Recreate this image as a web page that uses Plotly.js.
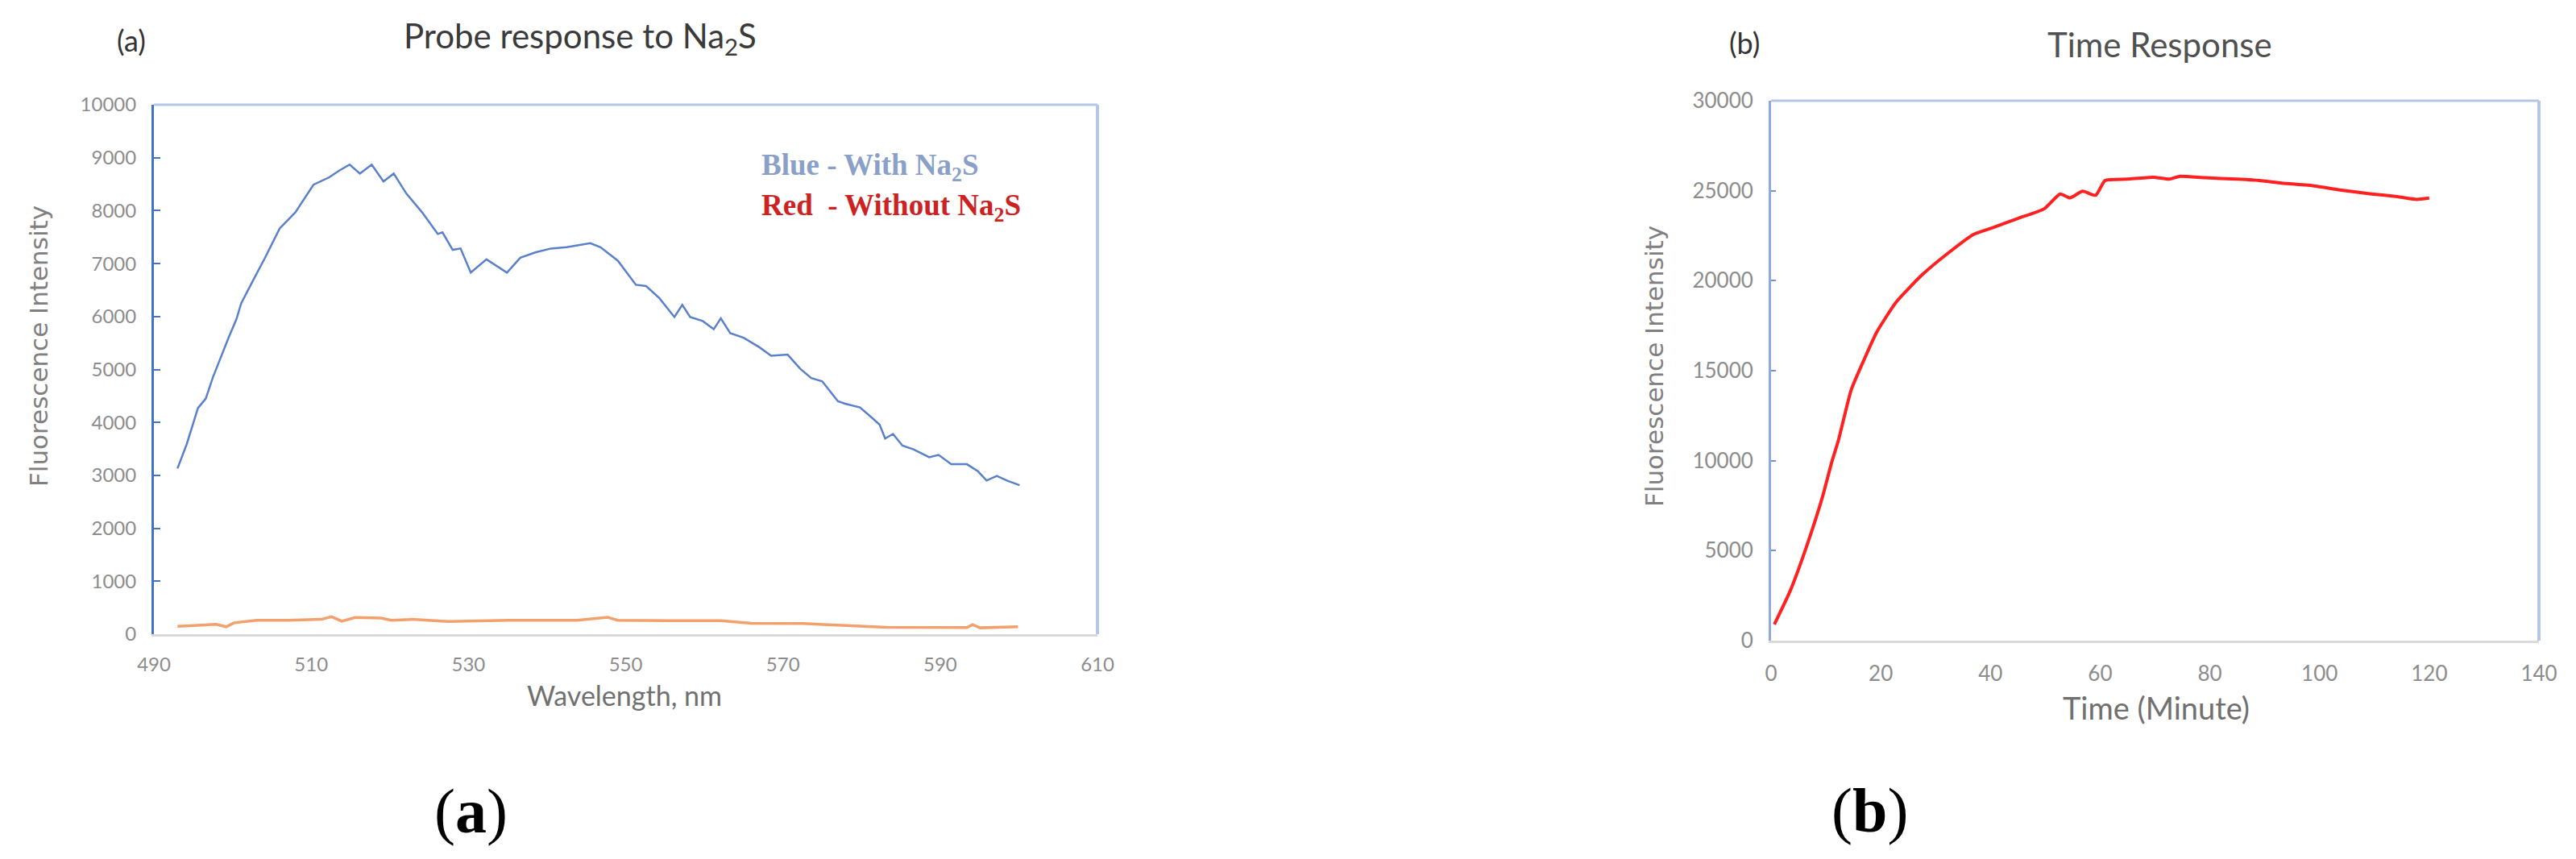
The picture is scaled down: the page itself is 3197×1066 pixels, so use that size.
<!DOCTYPE html>
<html>
<head>
<meta charset="utf-8">
<script src="https://cdn.plot.ly/plotly-3.0.1.min.js"></script>
<style>
  html, body { margin: 0; padding: 0; background: #fff; }
  #chart { width: 3197px; height: 1066px; }
</style>
</head>
<body>
<div id="chart"></div>
<script>
// Panel (a): emission spectra
const wavelengthWith = [493.0, 494.2, 495.6, 496.6, 497.5, 498.5, 499.5, 500.5, 501.1, 502.5,
  504.1, 506.0, 508.0, 510.3, 512.3, 513.6, 514.9, 516.2, 517.7, 519.2,
  520.5, 522.1, 524.1, 526.1, 526.7, 528.0, 529.0, 530.3, 532.3, 534.9,
  536.6, 538.5, 540.5, 542.5, 545.5, 546.8, 549.0, 551.3, 552.6, 554.3,
  556.2, 557.2, 558.2, 559.8, 561.2, 562.1, 563.3, 565.0, 567.0, 568.5,
  570.6, 572.2, 573.6, 575.0, 577.0, 577.9, 579.8, 581.3, 582.3, 583.0,
  584.0, 585.2, 586.6, 588.6, 589.8, 591.4, 593.4, 594.8, 595.9, 597.2,
  598.5, 600.1];
const intensityWith = [3130, 3600, 4270, 4450, 4850, 5230, 5600, 5950, 6250, 6650,
  7100, 7665, 7970, 8490, 8630, 8760, 8870, 8700, 8870, 8550,
  8700, 8325, 7970, 7560, 7590, 7260, 7285, 6830, 7080, 6830,
  7110, 7210, 7285, 7310, 7385, 7310, 7055, 6600, 6575, 6345,
  5990, 6220, 5990, 5915, 5760, 5965, 5685, 5600, 5420, 5260,
  5280, 5013, 4837, 4776, 4398, 4353, 4283, 4090, 3958, 3694,
  3782, 3562, 3492, 3342, 3386, 3210, 3210, 3078, 2902, 2990,
  2902, 2814];

const wavelengthWithout = [493.0, 495.5, 497.9, 499.2, 500.2, 503.1, 507.0, 511.3, 512.6, 513.9,
  515.6, 518.9, 520.2, 522.8, 527.4, 535.2, 543.8, 547.7, 549.0, 555.6,
  562.1, 566.0, 572.6, 583.2, 593.4, 594.1, 595.1, 599.9];
const intensityWithout = [150, 165, 185, 140, 215, 262, 262, 280, 330, 245,
  315, 305, 262, 280, 240, 262, 262, 320, 262, 255,
  255, 205, 200, 130, 125, 180, 120, 140];

// Panel (b): time response
const timeMin = [0.6, 3.5, 6.4, 9.4, 11.1, 12.3, 14.6, 17.0, 19.3, 22.8,
  27.5, 32.2, 36.9, 40.4, 45.1, 49.8, 52.7, 54.5, 56.8, 59.2,
  60.9, 65.0, 69.7, 72.6, 74.4, 79.1, 84.9, 89.0, 93.1, 99.0,
  103.7, 109.5, 114.2, 117.7, 120.0];
const intensityTime = [900, 2770, 5165, 8010, 9955, 11150, 13920, 15640, 17160, 18810,
  20315, 21515, 22570, 22945, 23470, 23995, 24820, 24600, 24970, 24745,
  25570, 25645, 25750, 25645, 25795, 25720, 25645, 25570, 25420, 25270,
  25045, 24820, 24670, 24520, 24595];

const W = 3197, H = 1066;
const px = x => x / W;
const py = y => 1 - y / H;

const tickFont = { family: 'Lato, sans-serif', size: 24, color: '#8c8c8c' };
const axisTitleFont = { family: 'DejaVu Sans, sans-serif', size: 31, color: '#808080' };

const traces = [
  {
    x: wavelengthWith, y: intensityWith, xaxis: 'x', yaxis: 'y',
    type: 'scatter', mode: 'lines', line: { color: '#5a80cc', width: 2.5 }
  },
  {
    x: wavelengthWithout, y: intensityWithout, xaxis: 'x', yaxis: 'y',
    type: 'scatter', mode: 'lines', line: { color: '#f2a06c', width: 3.5 }
  },
  {
    x: timeMin, y: intensityTime, xaxis: 'x2', yaxis: 'y2',
    type: 'scatter', mode: 'lines', line: { color: '#ff2020', width: 4, shape: 'spline', smoothing: 0.5 }
  }
];

function border(xr, yr) {
  return [
    { type: 'line', xref: xr, yref: yr, x0: 0, x1: 1, y0: 1, y1: 1, line: { color: '#b4c7e7', width: 3 } },
    { type: 'line', xref: xr, yref: yr, x0: 1, x1: 1, y0: 0, y1: 1, line: { color: '#b4c7e7', width: 4 } }
  ];
}

// text placed by pixel centre
function label(text, x, y, font, extra) {
  return Object.assign({
    text: text, x: px(x), y: py(y), xref: 'paper', yref: 'paper',
    xanchor: 'center', yanchor: 'middle', showarrow: false, font: font
  }, extra || {});
}

const layout = {
  width: W, height: H,
  margin: { l: 0, r: 0, t: 0, b: 0 },
  paper_bgcolor: '#fff', plot_bgcolor: '#fff',
  showlegend: false,
  xaxis: {
    domain: [px(191), px(1362)], anchor: 'y',
    range: [490, 610], tick0: 490, dtick: 20,
    showgrid: false, zeroline: false,
    showline: true, linecolor: '#d9d9d9', linewidth: 3,
    ticks: '', ticklabelstandoff: 14, tickfont: tickFont
  },
  yaxis: {
    domain: [py(787), py(130)], anchor: 'x',
    range: [0, 10000], dtick: 1000, tickformat: 'd',
    showgrid: false, zeroline: false,
    showline: true, linecolor: '#4472c4', linewidth: 3,
    ticks: 'inside', ticklen: 8, tickwidth: 2, tickcolor: '#4472c4',
    ticklabelstandoff: 14, tickfont: tickFont
  },
  xaxis2: {
    domain: [px(2198), px(3151)], anchor: 'y2',
    range: [0, 140], dtick: 20,
    showgrid: false, zeroline: false,
    showline: true, linecolor: '#d9d9d9', linewidth: 3,
    ticks: '', ticklabelstandoff: 16, tickfont: Object.assign({}, tickFont, { size: 26 })
  },
  yaxis2: {
    domain: [py(795), py(125)], anchor: 'x2',
    range: [0, 30000], dtick: 5000, tickformat: 'd',
    showgrid: false, zeroline: false,
    showline: true, linecolor: '#8faadc', linewidth: 3,
    ticks: 'inside', ticklen: 6, tickwidth: 2, tickcolor: '#6f94d6',
    ticklabelstandoff: 14, tickfont: Object.assign({}, tickFont, { size: 26 })
  },
  shapes: border('x domain', 'y domain').concat(border('x2 domain', 'y2 domain')),
  annotations: [
    // panel titles
    label('(a)', 163, 50, { family: 'Lato, sans-serif', size: 36, color: '#333' }),
    label('Probe response to Na<sub>2</sub>S', 720, 47, { family: 'Lato, sans-serif', size: 42, color: '#3a3a3a' }),
    label('(b)', 2165, 53, { family: 'Lato, sans-serif', size: 36, color: '#333' }),
    label('Time Response', 2680, 55, { family: 'Lato, sans-serif', size: 42, color: '#505050' }),
    // axis titles
    label('Fluorescence Intensity', 48, 430, axisTitleFont, { textangle: -90 }),
    label('Wavelength, nm', 775, 862, { family: 'Lato, sans-serif', size: 34, color: '#707070' }),
    label('Fluorescence Intensity', 2053, 455, axisTitleFont, { textangle: -90 }),
    label('Time (Minute)', 2676, 878, { family: 'Lato, sans-serif', size: 38, color: '#707070' }),
    // in-plot legend text
    label('<b>Blue - With Na<sub>2</sub>S</b>', 943, 207, { family: 'Liberation Serif, serif', size: 37, color: '#8aa0c8' }, { xanchor: 'left' }),
    label('<b>Red  - Without Na<sub>2</sub>S</b>', 943, 257, { family: 'Liberation Serif, serif', size: 37, color: '#cc2222' }, { xanchor: 'left' }),
    // figure sub-labels
    label('(<b>a</b>)', 584, 1006, { family: 'Liberation Serif, serif', size: 78, color: '#000' }),
    label('(<b>b</b>)', 2320, 1005, { family: 'Liberation Serif, serif', size: 78, color: '#000' })
  ]
};

Plotly.newPlot('chart', traces, layout, { staticPlot: true });
</script>
</body>
</html>
